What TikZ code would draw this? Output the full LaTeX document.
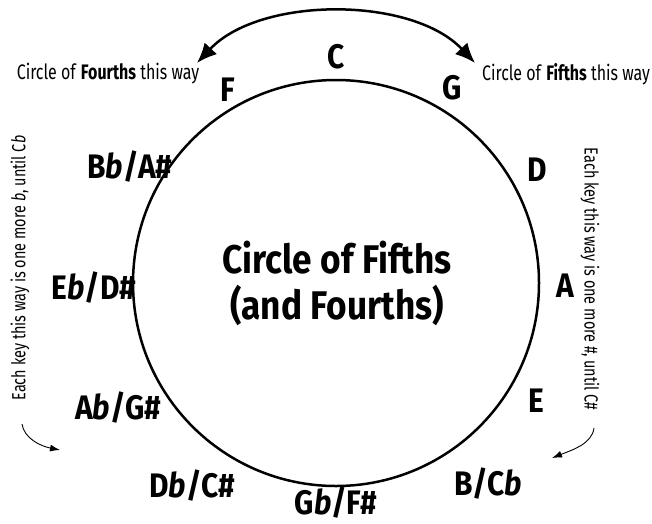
\documentclass[tikz,border=0pt]{standalone}
\usepackage{fontspec}
\usetikzlibrary{arrows.meta}
\setmainfont{Fira Sans}[FakeStretch=0.88]
\newfontfamily\notefont{Fira Sans}[FakeStretch=0.76]
\tikzset{
  keylab/.style={font=\fontsize{34}{38}\selectfont\bfseries, inner sep=0pt},
  note/.style={font=\notefont\fontsize{21}{24}\selectfont, inner sep=0pt},
  sidenote/.style={font=\notefont\fontsize{19}{22}\selectfont, inner sep=0pt},
  ringline/.style={line width=2.5pt},
  bigarrow/.style={line width=2.5pt, {Latex[length=20pt,width=17pt]}-{Latex[length=20pt,width=17pt]}},
  smallarrow/.style={line width=0.9pt, -{Latex[length=10pt,width=7pt]}}
}
\begin{document}
\begin{tikzpicture}[x=1pt,y=-1pt]
\useasboundingbox (0,0) rectangle (652,523);
\node[circle, draw, ringline, minimum size=406pt, inner sep=0pt] (ring) at (336,283) {};
\node[keylab] (kC) at (336,57) {C};
\node[keylab] (kG) at (452,88) {G};
\node[keylab] (kD) at (537,170) {D};
\node[keylab] (kA) at (565,286) {A};
\node[keylab] (kE) at (536,401) {E};
\node[keylab] (kB) at (488,484) {B/C\textit{b}};
\node[keylab, anchor=base] (kGb) at (336,514) {G\textit{b}/F\#};
\node[keylab] (kDb) at (192,486) {D\textit{b}/C\#};
\node[keylab] (kAb) at (118,408) {A\textit{b}/G\#};
\node[keylab] (kEb) at (94,288) {E\textit{b}/D\#};
\node[keylab] (kBb) at (130,167) {B\textit{b}/A\#};
\node[keylab] (kF) at (228,90) {F};
\node[font=\fontsize{40}{46}\selectfont\bfseries, align=center, inner sep=0pt] (title) at (337,283) {Circle of Fifths\\(and Fourths)};
\node[note] (fourths) at (108,74) {Circle of \textbf{Fourths} this way};
\node[note] (fifths) at (566,74) {Circle of \textbf{Fifths} this way};
\node[sidenote, rotate=90] (leftnote) at (20,268) {Each key this way is one more \textit{b}, until C\textit{b}};
\node[sidenote, rotate=-90] (rightnote) at (590,279) {Each key this way is one more \#, until C\#};
\coordinate (tl) at (197,63);
\coordinate (tr) at (475,63);
\draw[bigarrow] (tl) .. controls (260,-4) and (412,-4) .. (tr);
\coordinate (la1) at (22,424);
\coordinate (la2) at (60,450);
\draw[smallarrow] (la1) .. controls (24,438) and (40,446) .. (la2);
\coordinate (ra1) at (594,428);
\coordinate (ra2) at (552,458);
\draw[smallarrow] (ra1) .. controls (592,444) and (572,450) .. (ra2);
\end{tikzpicture}
\end{document}
